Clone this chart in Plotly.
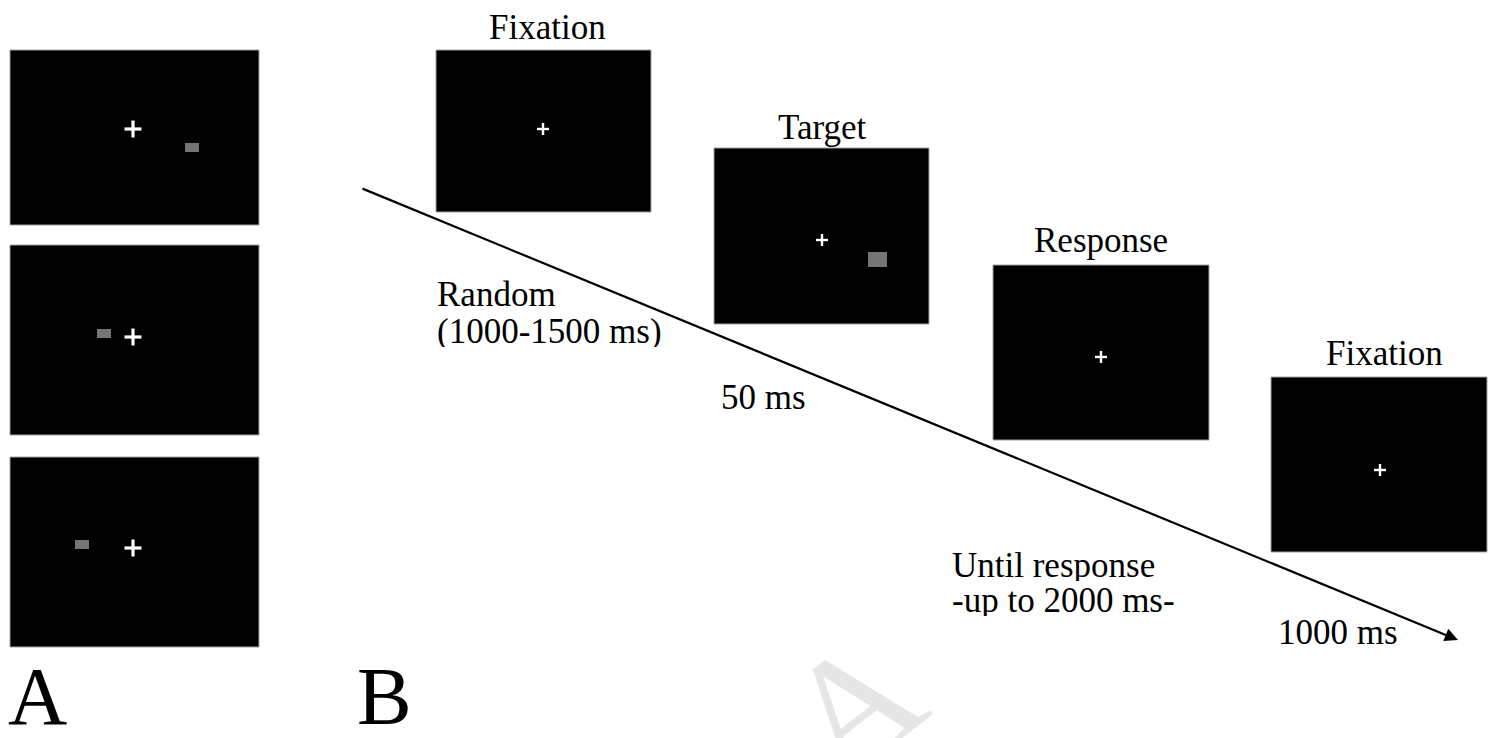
import plotly.graph_objects as go

W, H = 1497, 738
PAGE_OFFSET = 8  # default body margin of the page

# --- content ---
stage_labels = ["Fixation", "Target", "Response", "Fixation"]
duration_lines = [["Random", "(1000-1500 ms)"], ["50 ms"], ["Until response", "-up to 2000 ms-"], ["1000 ms"]]
panel_labels = ["A", "B"]

# --- geometry (pixel layout) ---
a_boxes = [(10, 50, 259, 225), (10, 245, 259, 435), (10, 457, 259, 647)]
a_cross = [(133, 129), (133, 337), (133, 548)]
a_targets = [(185, 143, 199, 152), (97, 329, 111, 338), (75, 540, 89, 549)]

b_boxes = [(436, 50, 651, 212), (714, 148, 929, 324), (993, 265, 1209, 440), (1271, 377, 1487, 552)]
b_cross = [(543, 129), (822, 240), (1101, 357), (1380, 470)]
b_target = (868, 252, 887, 267)
stage_label_pos = [(547, 27), (822, 127), (1101, 240), (1384, 353)]
duration_pos = [[(435, 294), (435, 331)], [(719, 397)], [(950, 565), (950, 600)], [(1276, 632)]]
arrow_start, arrow_end = (361, 188), (1458, 640)
panel_label_pos = [(9, 696), (358, 696)]

fig = go.Figure()
shapes = []
for (x0, y0, x1, y1) in a_boxes + b_boxes:
    shapes.append(dict(type="rect", x0=x0, y0=y0, x1=x1, y1=y1, xref="x", yref="y",
                       fillcolor="black", line=dict(color="#a0a0a0", width=1), layer="above"))
for (x0, y0, x1, y1) in a_targets + [b_target]:
    shapes.append(dict(type="rect", x0=x0, y0=y0, x1=x1, y1=y1, xref="x", yref="y",
                       fillcolor="#757575", line=dict(width=0), layer="above"))


def cross(cx, cy, half, w):
    return [dict(type="line", x0=cx - half, x1=cx + half, y0=cy, y1=cy, xref="x", yref="y",
                 line=dict(color="white", width=w), layer="above"),
            dict(type="line", x0=cx, x1=cx, y0=cy - half, y1=cy + half, xref="x", yref="y",
                 line=dict(color="white", width=w), layer="above")]


for cx, cy in a_cross:
    shapes += cross(cx, cy, 8.5, 3.2)
for cx, cy in b_cross:
    shapes += cross(cx, cy, 6, 2.4)

annotations = []
font = dict(family="Liberation Serif, Times New Roman, serif", color="black")
for lab, (x, y) in zip(stage_labels, stage_label_pos):
    annotations.append(dict(x=x, y=y, xref="x", yref="y", text=lab, showarrow=False,
                            xanchor="center", yanchor="middle", font=dict(size=35, **font)))
for lines, positions in zip(duration_lines, duration_pos):
    for lab, (x, y) in zip(lines, positions):
        annotations.append(dict(x=x, y=y, xref="x", yref="y", text=lab, showarrow=False,
                                xanchor="left", yanchor="middle", align="left", height=32,
                                font=dict(size=35, **font)))
for lab, (x, y) in zip(panel_labels, panel_label_pos):
    annotations.append(dict(x=x, y=y, xref="x", yref="y", text=lab, showarrow=False,
                            xanchor="left", yanchor="middle", xshift=-3, height=64,
                            font=dict(size=82, **font)))

# faint watermark
annotations.append(dict(x=852, y=706, xref="x", yref="y", text="A", showarrow=False,
                        textangle=-38, font=dict(size=165, family="Liberation Serif", color="#e6e6e6")))

# time arrow
annotations.append(dict(x=arrow_end[0], y=arrow_end[1], ax=arrow_start[0], ay=arrow_start[1],
                        xref="x", yref="y", axref="x", ayref="y", text="", showarrow=True,
                        arrowhead=2, arrowsize=1.2, arrowwidth=2.2, arrowcolor="black"))

fig.update_layout(
    width=W - PAGE_OFFSET, height=H - PAGE_OFFSET, margin=dict(l=0, r=0, t=0, b=0),
    paper_bgcolor="white", plot_bgcolor="white",
    xaxis=dict(range=[PAGE_OFFSET, W], visible=False, fixedrange=True),
    yaxis=dict(range=[H, PAGE_OFFSET], visible=False, fixedrange=True),
    shapes=shapes, annotations=annotations, showlegend=False,
)
fig.write_html("out.html")
